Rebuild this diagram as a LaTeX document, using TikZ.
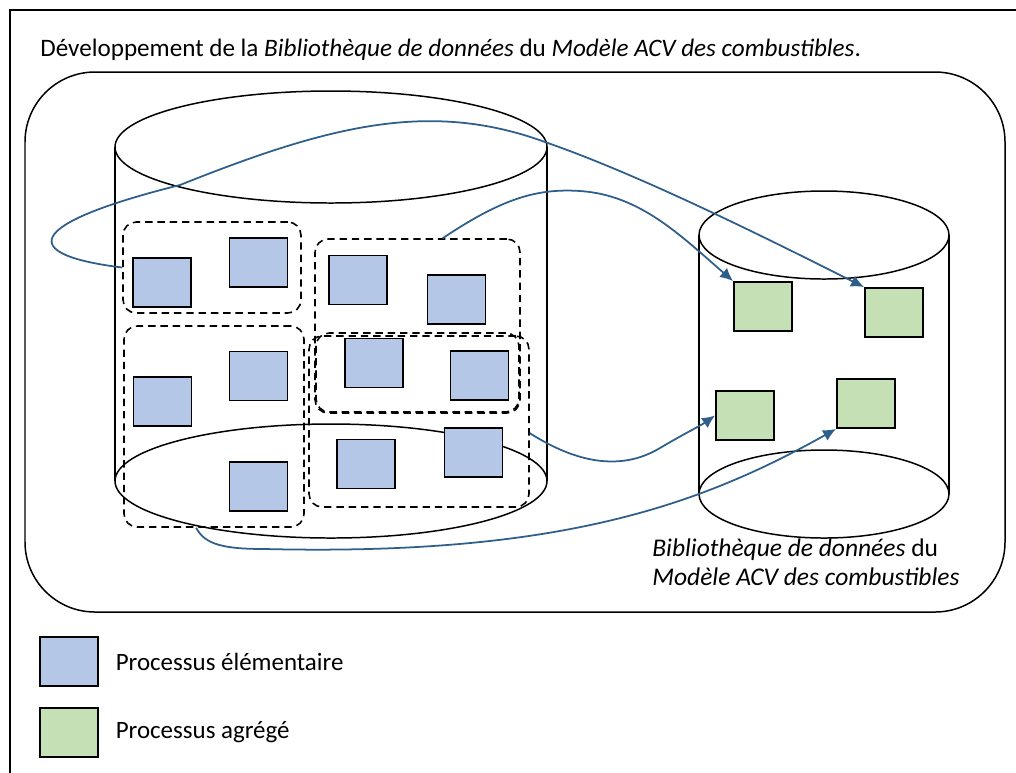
\documentclass[tikz,border=0pt]{standalone}
\usepackage{fontspec}
\setmainfont{Carlito}
\usepackage{xcolor}
\usepackage{tikz}
\usetikzlibrary{arrows.meta,positioning}

\definecolor{procblue}{RGB}{180,199,231}
\definecolor{procgreen}{RGB}{197,224,180}
\definecolor{linkblue}{RGB}{46,94,138}

\begin{document}
\begin{tikzpicture}[
  x=0.02cm, y=-0.02cm,
  node distance=3.3mm,
  elem/.style={draw, line width=1.1pt, fill=procblue, minimum width=1.16cm,
    minimum height=0.98cm, inner sep=0pt},
  aggr/.style={elem, fill=procgreen},
  group/.style={draw, dash pattern=on 4.2pt off 2.8pt, line width=0.9pt,
    rounded corners=7.5pt, inner sep=0pt},
  store/.style={line width=0.85pt},
  link/.style={-{Latex[length=2.6mm, width=2.4mm]}, linkblue, line width=1pt},
  keytext/.style={inner sep=0pt, font=\fontsize{14.2}{17}\selectfont}
]
\useasboundingbox (0,0) rectangle (1016,772);
\draw[line width=1.2pt] (10,10) rectangle (1040,800);

\node[anchor=base west, inner sep=0pt, font=\fontsize{14.3}{17}\selectfont] (title) at (40,56)
  {Développement de la \textit{Bibliothèque de données} du \textit{Modèle ACV des combustibles}.};

\draw[store, rounded corners=1.4cm] (25,72) rectangle (1005,612);

% source and target data stores
\draw[store] (331,147) ellipse [x radius=216, y radius=56];
\draw[store] (115,147) -- (115,481) (547,147) -- (547,481);
\draw[store] (331,481) ellipse [x radius=216, y radius=57];
\draw[store] (824,235) ellipse [x radius=125, y radius=44];
\draw[store] (699,235) -- (699,494) (949,235) -- (949,494);
\draw[store] (824,494) ellipse [x radius=125, y radius=44];

\node[group, minimum width=3.56cm, minimum height=1.82cm] (grp1) at (212,267.5) {};
\node[group, minimum width=3.6cm, minimum height=4.02cm] (grp2) at (214,426.5) {};
\node[group, minimum width=4.1cm, minimum height=3.48cm] (grp3) at (417.5,326) {};
\node[group, minimum width=4.06cm, minimum height=1.58cm] (grp4) at (417.5,372.5) {};
\node[group, minimum width=4.4cm, minimum height=3.42cm] (grp5) at (419,421.5) {};

\node[elem] (e1) at (162,282.5) {};
\node[elem] (e2) at (258.5,262.5) {};
\node[elem] (e3) at (162.5,401.5) {};
\node[elem] (e4) at (258.5,376) {};
\node[elem] (e5) at (258.5,486.5) {};
\node[elem] (e6) at (358,280) {};
\node[elem] (e7) at (456.5,299.5) {};
\node[elem] (e8) at (374,363) {};
\node[elem] (e9) at (479.5,375.5) {};
\node[elem] (e10) at (366,464) {};
\node[elem] (e11) at (473.5,452.5) {};

\node[aggr] (a1) at (763,306.5) {};
\node[aggr] (a2) at (894,312.5) {};
\node[aggr] (a3) at (745,415.5) {};
\node[aggr] (a4) at (866,403.5) {};

\draw[link] (grp1.west) .. controls (20,255) and (20,225) .. (180,185)
  .. controls (330,125) and (430,100) .. (545,142)
  .. controls (640,175) and (760,235) .. (a2.north west);
\draw[link] (grp3.74) .. controls (500,200) and (535,188) .. (580,191)
  .. controls (640,195) and (680,235) .. (a1.north west);
\draw[link] (grp5.-6) .. controls (575,462) and (620,472) .. (660,448)
  .. controls (680,436) and (700,426) .. (a3.west);
\draw[link] (grp2.-100) .. controls (205,545) and (225,549) .. (265,549)
  .. controls (560,556) and (700,505) .. (a4.south west);

\node[anchor=base west, align=left, inner sep=0pt, font=\fontsize{14.5}{16.2}\selectfont] (libname) at (652,585)
  {\textit{Bibliothèque de données} du\\\textit{Modèle ACV des combustibles}};

% legend
\node[elem] (keyelem) at (69,661.5) {};
\node[keytext, right=of keyelem] (keyelemtext) {Processus élémentaire};
\node[aggr] (keyaggr) at (69,732.5) {};
\node[keytext, right=of keyaggr] (keyaggrtext) {Processus agrégé};
\end{tikzpicture}
\end{document}
